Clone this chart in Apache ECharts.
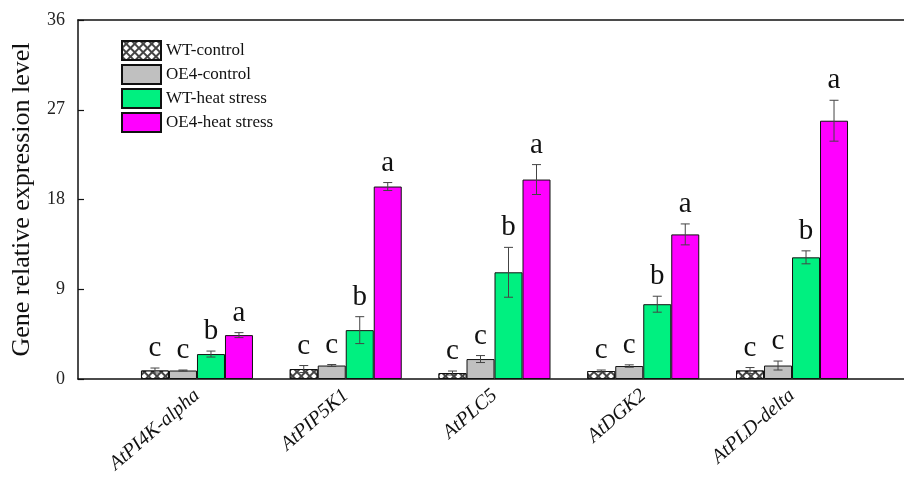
<!DOCTYPE html>
<html>
<head>
<meta charset="utf-8">
<script src="https://cdn.jsdelivr.net/npm/echarts@6/dist/echarts.min.js"></script>
<style>html,body{margin:0;padding:0;background:#fff;}#c{width:904px;height:477px;}</style>
</head>
<body>
<div id="c"></div>
<script>
var categories = ['AtPI4K-alpha', 'AtPIP5K1', 'AtPLC5', 'AtDGK2', 'AtPLD-delta'];
var seriesNames = ['WT-control', 'OE4-control', 'WT-heat stress', 'OE4-heat stress'];
var wtControl = [0.85, 1.0, 0.6, 0.8, 0.85];
var wtControlErr = [0.25, 0.35, 0.2, 0.1, 0.3];
var oe4Control = [0.85, 1.35, 2.0, 1.3, 1.35];
var oe4ControlErr = [0.05, 0.1, 0.35, 0.12, 0.45];
var wtHeat = [2.5, 4.9, 10.7, 7.5, 12.2];
var wtHeatErr = [0.3, 1.35, 2.5, 0.8, 0.65];
var oe4Heat = [4.4, 19.3, 20.0, 14.5, 25.9];
var oe4HeatErr = [0.25, 0.4, 1.5, 1.05, 2.05];
var wtControlSig = ['c', 'c', 'c', 'c', 'c'];
var oe4ControlSig = ['c', 'c', 'c', 'c', 'c'];
var wtHeatSig = ['b', 'b', 'b', 'b', 'b'];
var oe4HeatSig = ['a', 'a', 'a', 'a', 'a'];
var yTicks = [0, 9, 18, 27, 36];

var means = [wtControl, oe4Control, wtHeat, oe4Heat];
var errs = [wtControlErr, oe4ControlErr, wtHeatErr, oe4HeatErr];
var sigs = [wtControlSig, oe4ControlSig, wtHeatSig, oe4HeatSig];
var colors = ['#444444', '#c0c0c0', '#00f080', '#ff00ff'];
var BAR_W = 28;
var FONT = '"Liberation Serif", "Times New Roman", serif';

var chart = echarts.init(document.getElementById('c'));

var series = [];
for (var k = 0; k < 4; k++) {
  var itemStyle = { color: colors[k], borderColor: '#111', borderWidth: 1 };
  if (k === 0) {
    itemStyle.decal = {
      symbol: 'rect', color: '#ffffff', rotation: Math.PI / 4,
      dashArrayX: [4, 1.2], dashArrayY: [4, 1.2], symbolSize: 1
    };
  }
  series.push({
    name: seriesNames[k], type: 'bar', xAxisIndex: 2, yAxisIndex: 1,
    barWidth: BAR_W, barGap: '0%', data: means[k], itemStyle: itemStyle,
    emphasis: { disabled: true }
  });
}
for (var k2 = 0; k2 < 4; k2++) {
  (function (k) {
    var d = [];
    for (var i = 0; i < categories.length; i++) d.push([i, means[k][i], errs[k][i], sigs[k][i]]);
    series.push({
      type: 'custom', xAxisIndex: 2, yAxisIndex: 1, z: 5, data: d, silent: true,
      renderItem: function (params, api) {
        var x = api.value(0), m = api.value(1), e = api.value(2);
        var top = api.coord([x, m + e]);
        var bot = api.coord([x, Math.max(0, m - e)]);
        var cx = top[0] + (k - 1.5) * BAR_W;
        var cap = 4.5;
        return {
          type: 'group',
          children: [
            { type: 'line', shape: { x1: cx, y1: top[1], x2: cx, y2: bot[1] }, style: { stroke: '#444', lineWidth: 1 } },
            { type: 'line', shape: { x1: cx - cap, y1: top[1], x2: cx + cap, y2: top[1] }, style: { stroke: '#444', lineWidth: 1 } },
            { type: 'line', shape: { x1: cx - cap, y1: bot[1], x2: cx + cap, y2: bot[1] }, style: { stroke: '#444', lineWidth: 1 } },
            { type: 'text', style: { text: sigs[k][params.dataIndex], x: cx, y: top[1] - 5, align: 'center', verticalAlign: 'bottom', fontSize: 29, fontFamily: FONT, fill: '#111' } }
          ]
        };
      }
    });
  })(k2);
}

chart.setOption({
  animation: false,
  backgroundColor: '#fff',
  textStyle: { fontFamily: FONT },
  legend: {
    orient: 'vertical', left: 116, top: 35, itemWidth: 39, itemHeight: 19, itemGap: 3,
    icon: 'rect', data: seriesNames, selectedMode: false,
    textStyle: { fontFamily: FONT, fontSize: 17, color: '#111' }
  },
  grid: [
    { left: 78, right: 0, top: 20, bottom: 98 },
    { left: 122.6, right: 37.6, top: 20, bottom: 98 }
  ],
  xAxis: [
    { type: 'value', gridIndex: 0, min: 0, max: 1, position: 'bottom',
      axisLine: { show: true, lineStyle: { color: '#111', width: 1.5 } },
      axisTick: { show: false }, axisLabel: { show: false }, splitLine: { show: false } },
    { type: 'value', gridIndex: 0, min: 0, max: 1, position: 'top',
      axisLine: { show: true, lineStyle: { color: '#111', width: 1.5 } },
      axisTick: { show: false }, axisLabel: { show: false }, splitLine: { show: false } },
    { type: 'category', gridIndex: 1, data: categories,
      axisLine: { show: false }, axisTick: { show: false },
      axisLabel: { rotate: 41, margin: 14, fontSize: 20, fontStyle: 'italic', fontFamily: FONT, color: '#111' } }
  ],
  yAxis: [
    { type: 'value', gridIndex: 0, min: yTicks[0], max: yTicks[yTicks.length - 1], interval: yTicks[1] - yTicks[0],
      name: 'Gene relative expression level', nameLocation: 'middle', nameGap: 43,
      nameTextStyle: { fontSize: 26, fontFamily: FONT, color: '#111' },
      axisLine: { show: true, lineStyle: { color: '#111', width: 1.5 } },
      axisTick: { show: true, inside: true, length: 6, lineStyle: { color: '#111', width: 1.2 } },
      axisLabel: { fontSize: 18, fontFamily: FONT, color: '#222', margin: 13 },
      splitLine: { show: false } },
    { type: 'value', gridIndex: 1, min: 0, max: 36, show: false, splitLine: { show: false } }
  ],
  series: series
});
</script>
</body>
</html>
